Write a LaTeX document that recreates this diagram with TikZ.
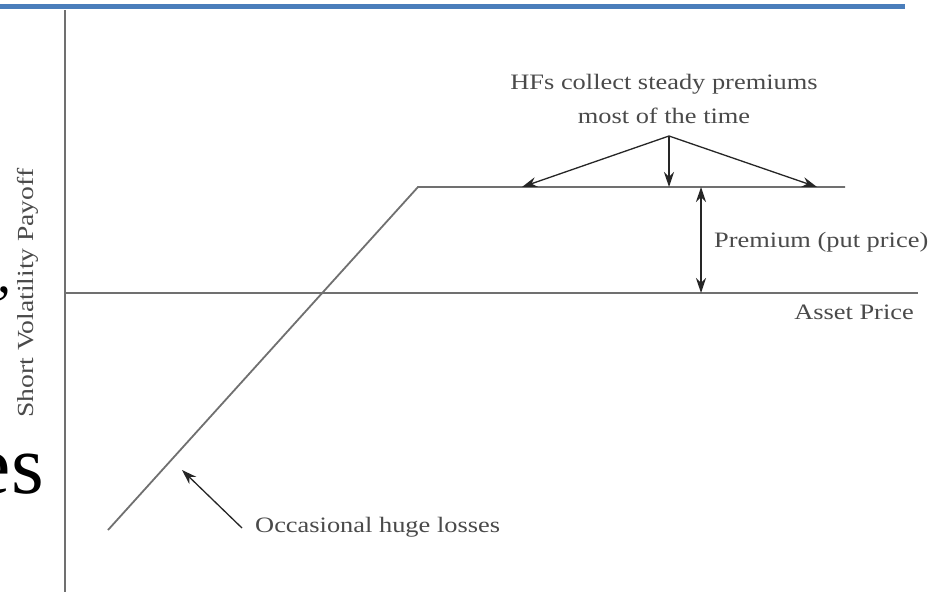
\documentclass[tikz,border=0pt]{standalone}
\usepackage{fontspec}
\setmainfont{Liberation Serif}
\newfontfamily\lblfont[FakeStretch=1.2]{Liberation Serif}
\usetikzlibrary{arrows.meta}
\definecolor{slideblue}{HTML}{4A7EBB}
\definecolor{axisgray}{HTML}{707070}
\definecolor{txtgray}{HTML}{4A4A4A}
\begin{document}
\begin{tikzpicture}[x=1pt,y=-1pt,
  axisline/.style={draw=axisgray,line width=1.8pt},
  pointer/.style={draw=black!85,line width=1.3pt,-{Stealth[length=15pt,width=10pt]}},
  twoway/.style={draw=black!85,line width=1.3pt,{Stealth[length=15pt,width=10pt]}-{Stealth[length=15pt,width=10pt]}},
  lbl/.style={text=txtgray,font=\lblfont\fontsize{22}{34}\selectfont,inner sep=0pt},
  bigtxt/.style={text=black,inner sep=0pt}]
\useasboundingbox (0,0) rectangle (934,592);
\clip (0,0) rectangle (934,592);
\fill[white] (0,0) rectangle (934,592);
% slide decoration
\fill[slideblue] (0,4) rectangle (905,9);
\node[bigtxt,font=\fontsize{56}{60}\selectfont,anchor=base east] (comma) at (12,292) {,};
\node[bigtxt,font=\fontsize{84}{86}\selectfont,anchor=base east] (es) at (44,493) {es};
% axes
\coordinate (vtop) at (65,10);
\coordinate (vbot) at (65,592);
\coordinate (hleft) at (65,293);
\coordinate (hright) at (918,293);
\draw[axisline] (vtop) -- (vbot);
\draw[axisline] (hleft) -- (hright);
% payoff
\coordinate (pl) at (108,530);
\coordinate (pk) at (418,187);
\coordinate (pr) at (845,187);
\draw[axisline] (pl) -- (pk) -- (pr);
% labels
\node[lbl,font=\lblfont\fontsize{23}{30}\selectfont,rotate=90] (ylab) at (28,293) {Short Volatility Payoff};
\node[lbl,align=center,anchor=south] (hf) at (664,124) {HFs collect steady premiums\\most of the time};
\node[lbl,anchor=west] (prem) at (714,242) {Premium (put price)};
\node[lbl,anchor=east] (asset) at (914,312) {Asset Price};
\node[lbl,anchor=west] (occ) at (255,527) {Occasional huge losses};
% arrows
\coordinate (src) at (669,136);
\coordinate (tl) at (522,187);
\coordinate (tm) at (669,187);
\coordinate (tr) at (817,187);
\draw[pointer] (src) -- (tl);
\draw[pointer] (src) -- (tm);
\draw[pointer] (src) -- (tr);
\coordinate (pa) at (701,187);
\coordinate (pb) at (701,293);
\draw[twoway] (pa) -- (pb);
\coordinate (ls) at (242,528);
\coordinate (lt) at (182,470);
\draw[pointer] (ls) -- (lt);
\end{tikzpicture}
\end{document}
